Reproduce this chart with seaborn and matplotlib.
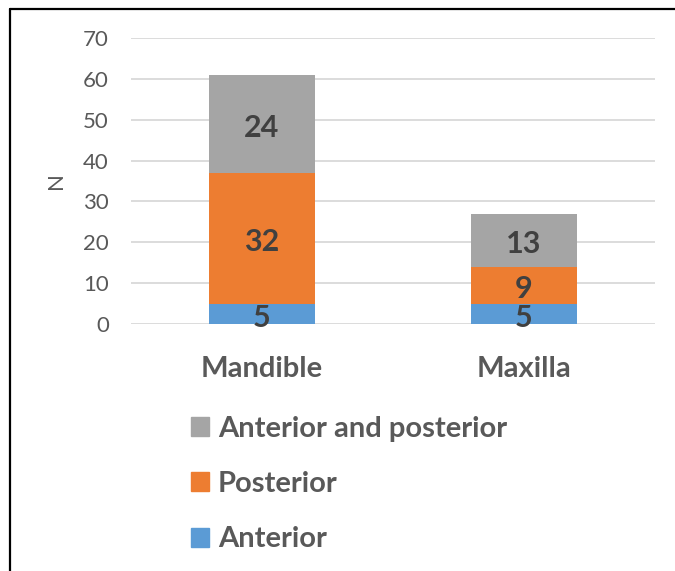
import matplotlib
matplotlib.use("Agg")
import matplotlib.pyplot as plt
import matplotlib.patches as mpatches
from matplotlib.lines import Line2D
import seaborn as sns
import pandas as pd
import numpy as np

categories = ["Mandible", "Maxilla"]
anterior = [5, 5]
posterior = [32, 9]
both = [24, 13]
series_names = ["Anterior", "Posterior", "Anterior and posterior"]
series_values = [anterior, posterior, both]
colors = ["#5B9BD5", "#ED7D31", "#A5A5A5"]
y_ticks = [0, 10, 20, 30, 40, 50, 60, 70]

sns.set_theme(style="white")
plt.rcParams['font.family'] = ['Lato', 'DejaVu Sans']

fig = plt.figure(figsize=(6.75, 5.71), dpi=100)
ax = fig.add_axes([131/675, 1 - 324/571, 524/675, (324 - 38)/571])

# cumulative stacks
cum = np.cumsum(np.array(series_values), axis=0)
for i in range(len(series_names) - 1, -1, -1):
    df = pd.DataFrame({"cat": categories, "val": cum[i]})
    sns.barplot(data=df, x="cat", y="val", color=colors[i], saturation=1,
                width=0.405, ax=ax, zorder=3, linewidth=0)

# data labels
for i, vals in enumerate(series_values):
    bottoms = cum[i] - np.array(vals)
    for j, v in enumerate(vals):
        ax.annotate(str(v), (j, bottoms[j] + v / 2), xytext=(0, -4),
                    textcoords="offset pixels", ha="center", va="center",
                    fontsize=22, fontweight="bold", color="#404040", zorder=5)

ax.set_ylim(0, 70)
ax.set_xlim(-0.5, 1.5)
ax.set_yticks(y_ticks)
ax.yaxis.grid(True, color="#D9D9D9", linewidth=1.3, zorder=0)
ax.set_axisbelow(True)
for s in ax.spines.values():
    s.set_visible(False)
ax.tick_params(axis="both", length=0)
ax.tick_params(axis="y", labelsize=16, labelcolor="#595959", pad=16)
ax.tick_params(axis="x", labelsize=21, labelcolor="#595959", pad=23)
for lbl in ax.get_xticklabels():
    lbl.set_fontweight("bold")
ax.set_xlabel("")
ax.set_ylabel("N", fontsize=16, color="#595959", labelpad=12)

handles = [mpatches.Patch(color=colors[i], label=series_names[i]) for i in range(2, -1, -1)]
leg = fig.legend(handles=handles, loc="upper left", bbox_to_anchor=(191/675, 1 - 416/571),
                 frameon=False, prop={"size": 21, "weight": "bold"},
                 handlelength=0.62, handleheight=0.62, handletextpad=0.3,
                 labelspacing=1.0, borderpad=0, borderaxespad=0)
for t in leg.get_texts():
    t.set_color("#595959")

# figure border (left and top visible)
fig.add_artist(Line2D([10/675, 10/675], [0, 1 - 9/571], color="black", linewidth=1.6, transform=fig.transFigure))
fig.add_artist(Line2D([10/675, 1], [1 - 9/571, 1 - 9/571], color="black", linewidth=1.6, transform=fig.transFigure))

fig.savefig("out.png", dpi=100)
